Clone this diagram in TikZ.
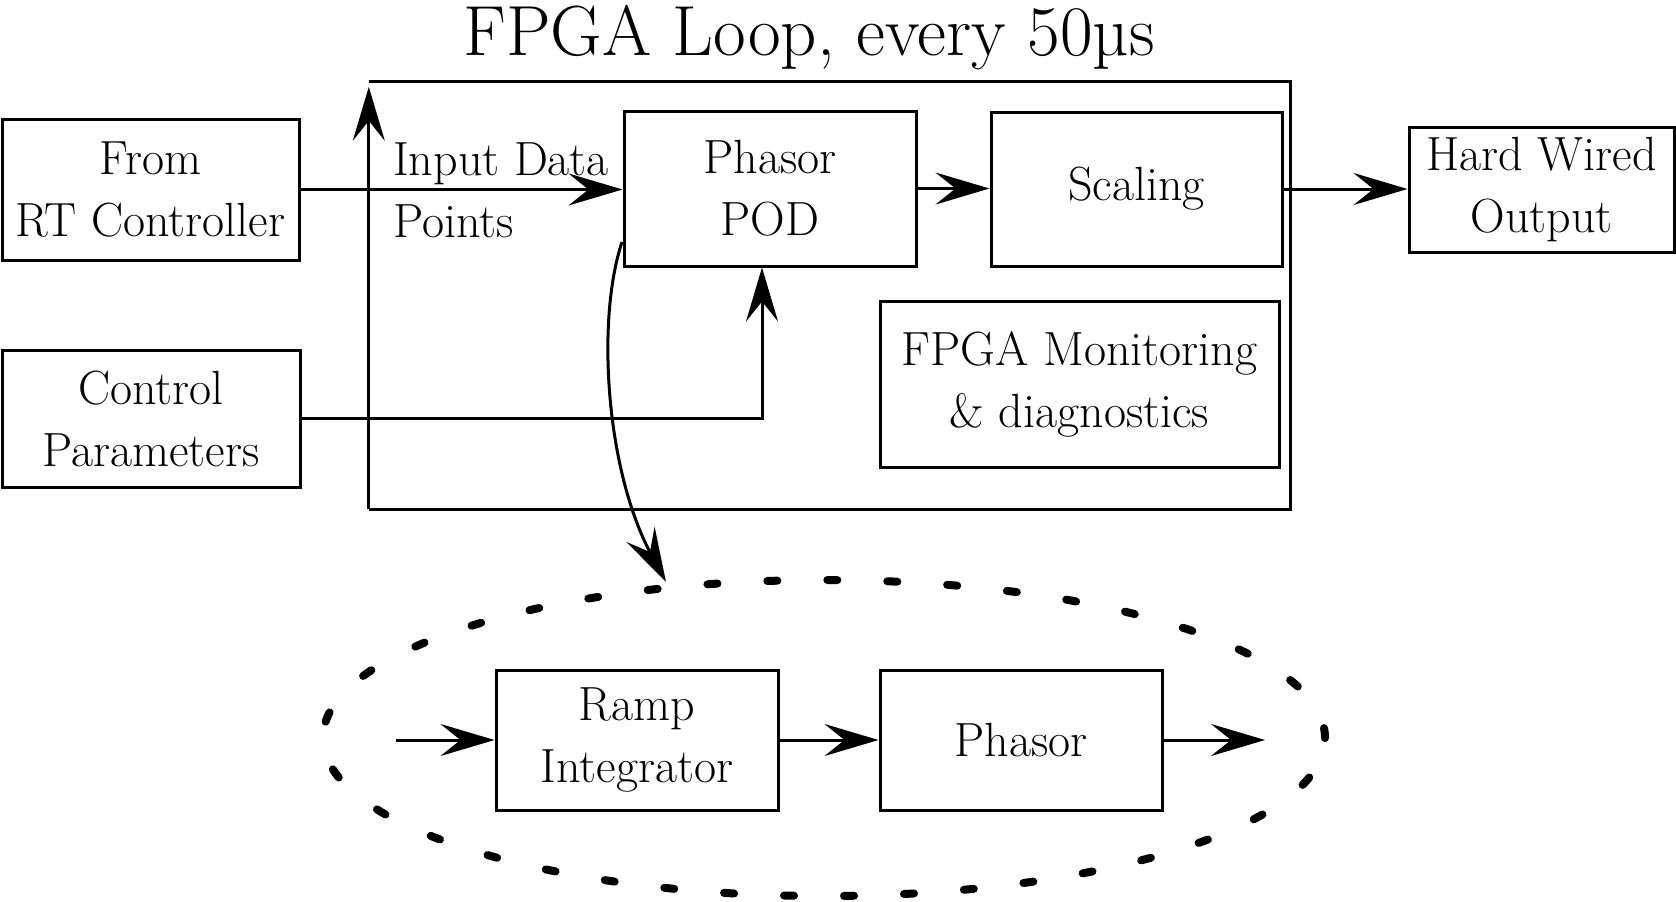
\documentclass[tikz,border=0pt]{standalone}
\usetikzlibrary{arrows.meta,calc,shapes.geometric}
\begin{document}
\begin{tikzpicture}[x=1pt,y=-1pt,
  txt/.style={font=\fontsize{48}{62}\selectfont},
  box/.style={txt,draw,line width=3pt,inner sep=0pt,align=center},
  arr/.style={line width=3pt,-{Stealth[length=54pt,width=32pt,inset=20pt]}},
  frame/.style={line width=3pt,line join=miter},
  dots/.style={draw,line width=8pt,line cap=round,dash pattern=on 10pt off 50pt},
]
\useasboundingbox (0,0) rectangle (1676,902);
% title
\node[font=\fontsize{71}{84}\selectfont,anchor=base] (title) at (809,55) {FPGA Loop, every 50µs};
% FPGA frame
\node[inner sep=0pt,minimum width=921pt,minimum height=427pt] (fpga) at (829.5,295.5) {};
\draw[frame] (fpga.north west) -- (fpga.north east) -- (fpga.south east) -- (fpga.south west);
\draw[arr] (fpga.south west) -- ($(fpga.north west)+(0,5)$);
% boxes
\node[box,minimum width=297pt,minimum height=141pt] (rt) at (150.5,189.5) {From\\RT Controller};
\node[box,minimum width=298pt,minimum height=137pt] (cp) at (151,418.5) {Control\\Parameters};
\node[box,minimum width=292pt,minimum height=155pt] (pod) at (770,188.5) {Phasor\\POD};
\node[box,minimum width=291pt,minimum height=154pt] (sc) at (1136.5,189) {Scaling};
\node[box,minimum width=265pt,minimum height=125pt] (hw) at (1541.5,189.5) {Hard Wired\\Output};
\node[box,minimum width=399pt,minimum height=166pt] (mon) at (1079.5,384) {FPGA Monitoring\\\&~diagnostics};
\node[box,minimum width=282pt,minimum height=140pt] (ramp) at (637,740) {Ramp\\Integrator};
\node[box,minimum width=282pt,minimum height=140pt] (ph) at (1021,740) {Phasor};
% label
\node[txt,align=left,anchor=west,inner sep=0pt] (lbl) at (393,190) {Input Data\\Points};
% connectors
\draw[arr] (rt.east) -- (rt.east -| pod.west);
\draw[arr] (pod.east) -- (pod.east -| sc.west);
\draw[arr] (sc.east) -- (sc.east -| hw.west);
\draw[arr] (cp.east) -| ($(pod.south)+(-8,0)$);
% ellipse
\node[dots,ellipse,inner sep=0pt,minimum width=1002pt,minimum height=316pt] (loop) at (824,738) {};
\coordinate (lin) at (396,740);
\coordinate (lout) at (1265,740);
\draw[arr] (lin) -- (ramp.west);
\draw[arr] (ramp.east) -- (ph.west);
\draw[arr] (ph.east) -- (lout);
% curved arrow
\coordinate (cs) at (622,242);
\coordinate (ce) at (666,582);
\draw[arr] (cs) .. controls (596,320) and (606,470) .. (ce);
\end{tikzpicture}
\end{document}
